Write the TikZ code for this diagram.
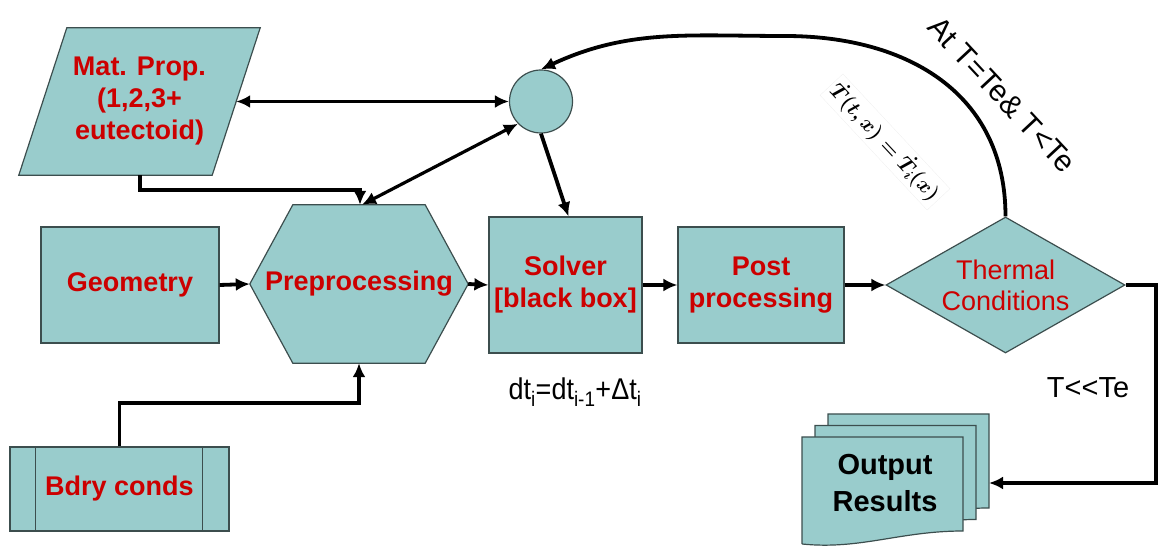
\documentclass[tikz,border=0pt]{standalone}
\usepackage{fontspec}
\setmainfont{Liberation Sans}
\usepackage{amsmath}
\usepackage{tikz}
\usetikzlibrary{positioning,shapes,arrows.meta,calc,backgrounds}
\definecolor{boxfill}{RGB}{153,204,204}
\definecolor{boxline}{RGB}{60,78,78}
\definecolor{labelred}{RGB}{204,0,0}

\begin{document}
\begin{tikzpicture}[x=1pt,y=1pt,
    blk/.style={fill=boxfill, draw=boxline, line width=1.2pt, inner sep=0pt, align=center},
    redlbl/.style={text=labelred, font=\fontsize{27}{32}\selectfont\bfseries, align=center},
    conn/.style={line width=3.8pt, -{Latex[length=14pt,width=13pt]}},
    bothconn/.style={line width=3.2pt, {Latex[length=14pt,width=13pt]}-{Latex[length=14pt,width=13pt]}},
    note/.style={font=\fontsize{29}{34}\selectfont}]
      \useasboundingbox (0,0) rectangle (1158,548);
      \node[redlbl, minimum width=241, minimum height=147] (mat) at (139.5,446.5) {Mat. Prop.\\(1,2,3+\\eutectoid)};
      \node[blk, redlbl, minimum width=178, minimum height=116] (geo) at (130,263) {Geometry};
      \node[redlbl, minimum width=218, minimum height=158] (pre) at (359,264) {Preprocessing};
      \node[blk, redlbl, minimum width=219, minimum height=84] (bdry) at (119.5,59) {Bdry conds};
      \node[blk, redlbl, minimum width=153, minimum height=136] (sol) at (565.5,263) {Solver\\{[}black box{]}};
      \node[blk, redlbl, minimum width=166, minimum height=116] (post) at (761,263) {Post\\processing};
      \node[blk, diamond, aspect=1.76, minimum width=239, minimum height=136,
            text=labelred, font=\fontsize{27}{31}\selectfont] (therm) at (1005.5,263) {Thermal\\Conditions};
      \node[blk, circle, minimum size=63] (hub) at (541,446.5) {};
      \node[font=\fontsize{29}{37}\selectfont\bfseries, align=center] (outp) at (885,65) {Output\\Results};
      \begin{scope}[on background layer]
        \draw[blk] (mat.south west) -- ($(mat.north west)+(48,0)$) -- (mat.north east) -- ($(mat.south east)+(-48,0)$) -- cycle;
        \draw[blk] (pre.west) -- ($(pre.north west)+(43,0)$) -- ($(pre.north east)+(-43,0)$) -- (pre.east)
          -- ($(pre.south east)+(-43,0)$) -- ($(pre.south west)+(43,0)$) -- cycle;
        \foreach \k in {2,1,0}
          \draw[blk, shift={(13*\k,11.5*\k)}] (802,4) -- (802,111) -- (963,111) -- (963,17) .. controls (900,17) and (860,-2) .. (802,4);
      \end{scope}
      \draw[boxline, line width=1.2pt] ($(bdry.north west)+(26,0)$) -- ($(bdry.south west)+(26,0)$);
      \draw[boxline, line width=1.2pt] ($(bdry.north east)+(-27,0)$) -- ($(bdry.south east)+(-27,0)$);
      \coordinate (matin) at ($(mat.east)+(-24,0)$);
      \coordinate (matfoot) at ($(mat.south west)+(121,0)$);
      \coordinate (peak) at (785,512);
      \coordinate (outin) at (989,65);
      \draw[conn] (geo.east) -- (pre.west);
      \draw[conn] (pre.east) -- (sol.west);
      \draw[conn] (sol.east) -- (post.west);
      \draw[conn] (post.east) -- (therm.west);
      \draw[conn] (matfoot) -- ++(0,-15) -| ($(pre.north)+(1,0)$);
      \draw[conn] (bdry.north) -- ++(0,43) -| (pre.south);
      \draw[bothconn] (matin) -- (hub.west);
      \draw[bothconn] ($(pre.north)+(3,0)$) -- (hub.224);
      \draw[conn] (hub.south) -- ($(sol.north)+(3,0)$);
      \draw[conn] (therm.north) to[out=90, in=0, looseness=1.1] (peak) to[out=180, in=25] (hub.north);
      \draw[conn] (therm.east) -- ++(30,0) |- (outin);
      \node[note] (lt) at (1088,160) {T<{}<Te};
      \node[font=\fontsize{30}{34}\selectfont] (dtl) at (575,156) {\scalebox{0.9}[1]{dt\textsubscript{i}=dt\textsubscript{i-1}+Δt\textsubscript{i}}};
      \node[font=\fontsize{30}{34}\selectfont, rotate=-47] (cond) at (1002,453) {At T=Te\& T<Te};
      \node[draw=black!6, rotate=-47, font=\fontsize{22}{26}\selectfont\boldmath] (rate) at (885,406) {$\dot{T}(t,x)=\dot{T}_i(x)$};
    \end{tikzpicture}
\end{document}
